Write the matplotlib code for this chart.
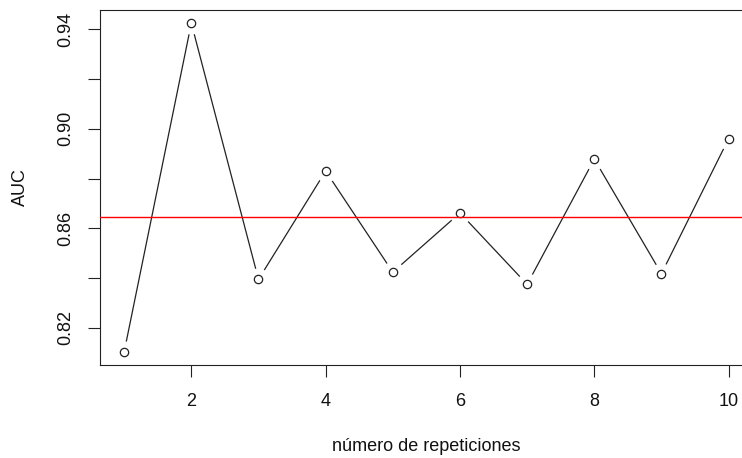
import numpy as np
import matplotlib
matplotlib.use("Agg")
import matplotlib.pyplot as plt

plt.rcParams['font.family'] = ['Liberation Sans', 'DejaVu Sans']

# AUC obtained in each repetition
repeticiones = [1, 2, 3, 4, 5, 6, 7, 8, 9, 10]
auc = [0.8104, 0.9424, 0.8395, 0.8830, 0.8424, 0.8662, 0.8375, 0.8878, 0.8418, 0.8960]

x_ticks = [2, 4, 6, 8, 10]
y_ticks = [0.82, 0.84, 0.86, 0.88, 0.90, 0.92, 0.94]
y_labels = ['0.82', '', '0.86', '', '0.90', '', '0.94']

fig = plt.figure(figsize=(7.42, 4.58), dpi=100)
ax = fig.add_axes([100 / 742, 93 / 458, 652.8 / 742, 355 / 458])

# lines with small gaps around the points (like type = "b")
ax.plot(repeticiones, auc, color='#222222', lw=0.9, zorder=1)
ax.plot(repeticiones, auc, 'o', ms=16, color='white', mec='none', zorder=2)
ax.plot(repeticiones, auc, 'o', ms=6, mfc='white', mec='#222222', mew=0.9, zorder=3)

# mean AUC
ax.axhline(np.mean(auc), color='#ff0000', lw=1.0, zorder=4)

span_x = max(repeticiones) - min(repeticiones)
ax.set_xlim(min(repeticiones) - 0.04 * span_x, max(repeticiones) + 0.04 * span_x)
span_y = max(auc) - min(auc)
ax.set_ylim(min(auc) - 0.04 * span_y, max(auc) + 0.04 * span_y)

ax.set_xticks(x_ticks)
ax.set_yticks(y_ticks)
ax.set_yticklabels(y_labels, rotation=90, va='center')

ax.tick_params(axis='both', length=8.5, width=0.8, color='#222222',
               labelsize=13, labelcolor='#111111')
ax.tick_params(axis='x', pad=12)
ax.tick_params(axis='y', pad=10)

for s in ax.spines.values():
    s.set_linewidth(0.8)
    s.set_color('#222222')

ax.set_xlabel('número de repeticiones', fontsize=13, color='#111111')
ax.set_ylabel('AUC', fontsize=13, color='#111111')
ax.xaxis.set_label_coords(0.5, -0.205)
ax.yaxis.set_label_coords(-0.109, 0.5)

fig.savefig('out.png', dpi=100)
